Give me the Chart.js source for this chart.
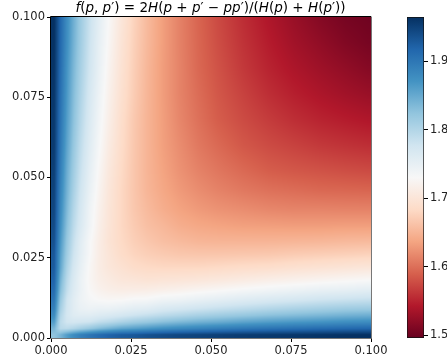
<!DOCTYPE html>
<html>
<head>
<meta charset="utf-8">
<title>f(p, p')</title>
<script src="https://cdn.jsdelivr.net/npm/chart.js@4"></script>
<style>
  html, body { margin: 0; background: #fff; }
  #wrap { position: relative; width: 447px; height: 361px; overflow: hidden; }
  canvas { position: absolute; left: 0; top: 0; }
  #title { position: absolute; left: 0; width: 421px; top: -1px; text-align: center; white-space: nowrap;
           font: 13.5px/16px "DejaVu Sans", sans-serif; color: #000; }
</style>
</head>
<body>
<div id="wrap">
  <canvas id="heat" width="447" height="361"></canvas>
  <canvas id="bar" width="447" height="361"></canvas>
  <div id="title"><i>f</i>(<i>p</i>, <i>p</i>′) = 2<i>H</i>(<i>p</i> + <i>p</i>′ − <i>pp</i>′)/(<i>H</i>(<i>p</i>) + <i>H</i>(<i>p</i>′))</div>
</div>
<script>
// tick labels
const axisTicks = [0, 0.025, 0.05, 0.075, 0.1];
const colorTicks = [1.5, 1.6, 1.7, 1.8, 1.9];

// colour scale limits
const colorMin = 1.4957;
const colorMax = 1.9645;

// RdBu stops, low to high
const colorStops = ["#67001f","#b2182b","#d6604d","#f4a582","#fddbc7","#f7f7f7","#d1e5f0","#92c5de","#4393c3","#2166ac","#053061"];

// grid positions along both axes
const gridPoints = [.001,.003,.005,.007,.009,.012,.015,.018,.022,.026,.03,.035,.04,.046,.052,.06,.068,.076,.084,.092,.099];

// estimated values, lower triangle (the picture mirrors on its diagonal)
const valueRows = [
  [1.824],
  [1.840,1.794],
  [1.862,1.792,1.776],
  [1.878,1.799,1.773,1.761],
  [1.890,1.808,1.775,1.758,1.748],
  [1.902,1.819,1.778,1.758,1.744,1.734],
  [1.912,1.831,1.788,1.763,1.747,1.729,1.720],
  [1.920,1.840,1.794,1.767,1.747,1.727,1.715,1.709],
  [1.927,1.852,1.804,1.773,1.752,1.728,1.712,1.702,1.694],
  [1.930,1.858,1.813,1.780,1.757,1.732,1.712,1.700,1.686,1.678],
  [1.936,1.865,1.819,1.786,1.760,1.733,1.713,1.697,1.683,1.673,1.666],
  [1.941,1.873,1.828,1.794,1.769,1.740,1.716,1.699,1.681,1.669,1.659,1.652],
  [1.945,1.879,1.835,1.800,1.774,1.742,1.719,1.700,1.681,1.666,1.655,1.644,1.636],
  [1.948,1.885,1.842,1.808,1.780,1.748,1.723,1.702,1.681,1.665,1.651,1.639,1.629,1.620],
  [1.951,1.891,1.847,1.814,1.786,1.753,1.727,1.705,1.683,1.665,1.650,1.636,1.624,1.613,1.605],
  [1.955,1.897,1.855,1.821,1.793,1.760,1.733,1.710,1.686,1.666,1.650,1.633,1.620,1.606,1.596,1.584],
  [1.957,1.902,1.861,1.828,1.800,1.766,1.738,1.715,1.688,1.667,1.650,1.632,1.616,1.601,1.588,1.576,1.566],
  [1.959,1.906,1.866,1.833,1.806,1.771,1.743,1.719,1.692,1.670,1.651,1.631,1.614,1.598,1.584,1.570,1.557,1.547],
  [1.961,1.910,1.870,1.838,1.811,1.777,1.748,1.723,1.695,1.672,1.652,1.631,1.614,1.595,1.581,1.564,1.550,1.539,1.530],
  [1.963,1.913,1.875,1.843,1.816,1.781,1.751,1.727,1.698,1.674,1.654,1.632,1.613,1.594,1.578,1.560,1.545,1.532,1.522,1.512],
  [1.964,1.915,1.877,1.846,1.818,1.784,1.755,1.730,1.701,1.676,1.655,1.632,1.613,1.593,1.576,1.557,1.541,1.527,1.515,1.506,1.502]
];

const stopRgb = colorStops.map(h=>[parseInt(h.slice(1,3),16), parseInt(h.slice(3,5),16), parseInt(h.slice(5,7),16)]);
function colorFor(v) {
  let t = (v-colorMin)/(colorMax-colorMin);
  t = Math.max(0, Math.min(1, t))*(stopRgb.length-1);
  let k = Math.min(Math.floor(t), stopRgb.length-2), f = t-k;
  return stopRgb[k].map((c,n)=>c+(stopRgb[k+1][n]-c)*f);
}

// one point per grid node, both halves of the square
let nodes = [];
gridPoints.forEach((gy,r)=>{
  gridPoints.forEach((gx,c)=>{
    nodes.push({x:gx, y:gy, v: r>=c ? valueRows[r][c] : valueRows[c][r]});
  });
});

// where a value falls between grid positions
function locate(v) {
  let n = gridPoints.length;
  if(v<=gridPoints[0]) return [0,0];
  if(v>=gridPoints[n-1]) return [n-2,1];
  let i = 0;
  while(gridPoints[i+1]<v) i++;
  return [i,(v-gridPoints[i])/(gridPoints[i+1]-gridPoints[i])];
}

const tickFont = {family:"'DejaVu Sans'", size:11.5};

// gouraud style shading of the nodes, positions taken from the chart's scales
const heatMesh = {
  id:"heatMesh",
  beforeDatasetsDraw(chart){
    const g = chart.ctx, a = chart.chartArea, xs = chart.scales.x, ys = chart.scales.y;
    const pts = chart.data.datasets[0].data, n = gridPoints.length;
    const w = Math.round(a.right-a.left), h = Math.round(a.bottom-a.top);
    const img = g.createImageData(w,h);
    for(let py=0; py<h; py++){
      let [r,fr] = locate(ys.getValueForPixel(a.top+py+0.5));
      for(let px=0; px<w; px++){
        let [c,fc] = locate(xs.getValueForPixel(a.left+px+0.5));
        let v = pts[r*n+c].v*(1-fr)*(1-fc) + pts[r*n+c+1].v*(1-fr)*fc
              + pts[(r+1)*n+c].v*fr*(1-fc) + pts[(r+1)*n+c+1].v*fr*fc;
        let rgb = colorFor(v), o = (py*w+px)*4;
        img.data[o]=rgb[0]; img.data[o+1]=rgb[1]; img.data[o+2]=rgb[2]; img.data[o+3]=255;
      }
    }
    g.putImageData(img, Math.round(a.left), Math.round(a.top));
  },
  afterDraw(chart){
    // spines
    const g = chart.ctx, a = chart.chartArea;
    g.save();
    g.lineWidth = 1;
    g.strokeStyle = "#000";
    g.beginPath();
    g.moveTo(a.left-0.5, a.bottom); g.lineTo(a.left-0.5, a.top-0.5); g.lineTo(a.right, a.top-0.5);
    g.stroke();
    g.strokeStyle = "#777";
    g.beginPath();
    g.moveTo(a.right+0.5, a.top-0.5); g.lineTo(a.right+0.5, a.bottom+0.5); g.lineTo(a.left-1, a.bottom+0.5);
    g.stroke();
    g.restore();
  }
};

function heatAxis(size, pad){
  return {
    type:"linear", min:0, max:0.1,
    afterBuildTicks: s=>{ s.ticks = axisTicks.map(v=>({value:v})); },
    afterFit: s=>{ if(size.w) s.width=size.w; if(size.h) s.height=size.h; },
    grid:{display:true, drawOnChartArea:false, drawTicks:true, tickLength:4, tickColor:"#000"},
    border:{display:false},
    ticks:{color:"#222", font:tickFont, padding:pad, maxRotation:0, autoSkip:false, callback:v=>v.toFixed(3)}
  };
}

new Chart(document.getElementById("heat"), {
  type:"scatter",
  data:{datasets:[{data:nodes, pointRadius:0}]},
  options:{
    responsive:false, animation:false, devicePixelRatio:1,
    layout:{padding:{top:17, right:76, left:0, bottom:0}},
    plugins:{legend:{display:false}, tooltip:{enabled:false}},
    scales:{x:heatAxis({h:23},2), y:heatAxis({w:51},2)}
  },
  plugins:[heatMesh]
});

// colorbar
new Chart(document.getElementById("bar"), {
  type:"bar",
  data:{labels:["f"], datasets:[{
    data:[[colorMin, colorMax]],
    barPercentage:1, categoryPercentage:1,
    backgroundColor(c){
      const a = c.chart.chartArea;
      if(!a) return "#fff";
      const grad = c.chart.ctx.createLinearGradient(0, a.bottom, 0, a.top);
      colorStops.forEach((s,n)=>grad.addColorStop(n/(colorStops.length-1), s));
      return grad;
    },
    borderColor:"#111", borderWidth:1, borderSkipped:false
  }]},
  options:{
    responsive:false, animation:false, devicePixelRatio:1,
    layout:{padding:{left:407, top:17, bottom:23, right:0}},
    plugins:{legend:{display:false}, tooltip:{enabled:false}},
    scales:{
      x:{display:false},
      y:{
        type:"linear", position:"right", min:colorMin, max:colorMax,
        afterBuildTicks: s=>{ s.ticks = colorTicks.map(v=>({value:v})); },
        afterFit: s=>{ s.width=23; },
        grid:{display:true, drawOnChartArea:false, drawTicks:true, tickLength:4, tickColor:"#000"},
        border:{display:false},
        ticks:{color:"#222", font:tickFont, padding:2, callback:v=>v.toFixed(1)}
      }
    }
  }
});
</script>
</body>
</html>
